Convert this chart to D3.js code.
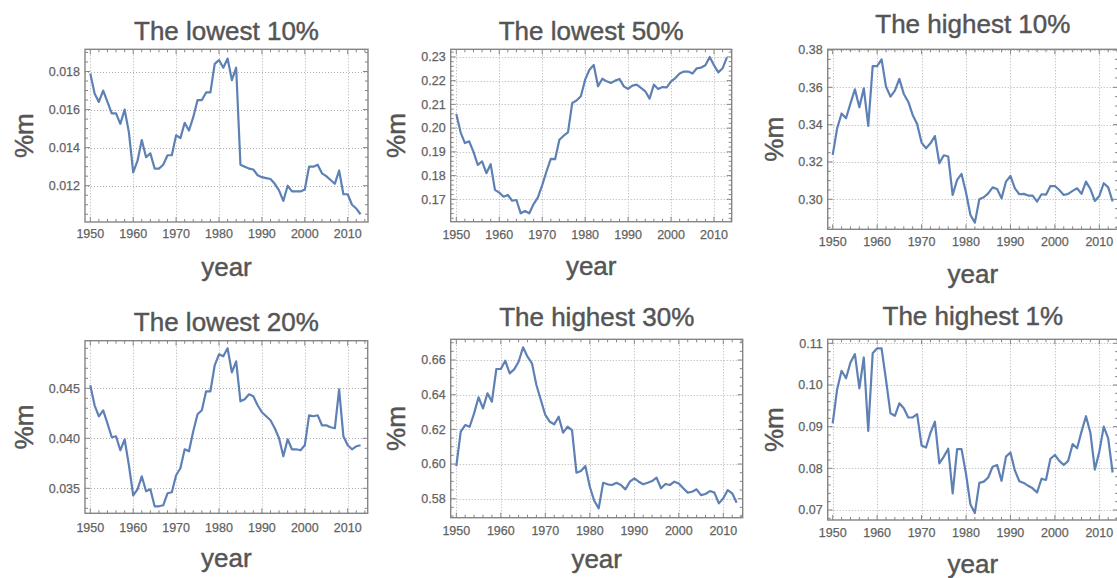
<!DOCTYPE html>
<html>
<head>
<meta charset="utf-8">
<script src="https://cdn.jsdelivr.net/npm/d3@7"></script>
<style>
  body { margin: 0; background: #fff; }
  svg { display: block; }
  text { font-family: "Liberation Sans", Arial, Helvetica, sans-serif; }
  .big { stroke: #555; stroke-width: 0.45px; }
  .tick { stroke: #6a6a6a; stroke-width: 0.25px; }
</style>
</head>
<body>
<svg id="chart" width="1117" height="578"></svg>
<script>
// Years covered by every series
const years = [
  1950,1951,1952,1953,1954,1955,1956,1957,1958,1959,
  1960,1961,1962,1963,1964,1965,1966,1967,1968,1969,
  1970,1971,1972,1973,1974,1975,1976,1977,1978,1979,
  1980,1981,1982,1983,1984,1985,1986,1987,1988,1989,
  1990,1991,1992,1993,1994,1995,1996,1997,1998,1999,
  2000,2001,2002,2003,2004,2005,2006,2007,2008,2009,
  2010,2011,2012,2013
];

// Income shares by group
const lowest10 = [
  0.0179,0.01685,0.0164,0.0170,0.0164,0.0158,0.0158,0.01525,0.0160,0.0148,
  0.0127,0.0133,0.0144,0.0135,0.0137,0.0129,0.0129,0.0131,0.0136,0.0136,
  0.01465,0.0145,0.0153,0.0149,0.0156,0.0165,0.0165,0.0169,0.0169,0.0184,
  0.0186,0.0182,0.01868,0.01755,0.0182,0.0131,0.0130,0.0129,0.01285,0.01255,
  0.01245,0.0124,0.01235,0.0121,0.01175,0.0112,0.0120,0.0117,0.0117,0.0117,
  0.0118,0.0130,0.0130,0.0131,0.01265,0.0125,0.0123,0.0121,0.0128,0.01155,
  0.01155,0.0110,0.0108,0.0105
];
const lowest50 = [
  0.2059,0.1982,0.1937,0.1944,0.1900,0.1845,0.1860,0.1810,0.1848,0.1740,
  0.1728,0.1711,0.1718,0.1694,0.1697,0.1641,0.1651,0.1641,0.1680,0.1708,
  0.1760,0.1817,0.1870,0.1869,0.1951,0.1968,0.1982,0.2106,0.2116,0.2134,
  0.2204,0.2246,0.2266,0.2176,0.2208,0.2197,0.2190,0.2200,0.2207,0.2176,
  0.2165,0.2179,0.2183,0.2169,0.2155,0.2124,0.2183,0.2165,0.2173,0.2172,
  0.2197,0.2211,0.2230,0.2238,0.2238,0.2230,0.2252,0.2255,0.2265,0.2300,
  0.2265,0.2235,0.2252,0.2298
];
const highest10 = [
  0.3238,0.3380,0.3460,0.3434,0.3514,0.3589,0.3493,0.3595,0.3393,0.3714,
  0.3714,0.3750,0.3604,0.3550,0.3582,0.3645,0.3564,0.3523,0.3452,0.3404,
  0.3304,0.3273,0.3300,0.3339,0.3193,0.3236,0.3229,0.3023,0.3104,0.3136,
  0.3036,0.2916,0.2875,0.3000,0.3011,0.3032,0.3064,0.3055,0.3005,0.3095,
  0.3125,0.3059,0.3027,0.3029,0.3020,0.3020,0.2988,0.3027,0.3025,0.3071,
  0.3071,0.3050,0.3023,0.3029,0.3045,0.3059,0.3029,0.3095,0.3055,0.2991,
  0.3018,0.3086,0.3064,0.2988
];
const lowest20 = [
  0.0453,0.0433,0.0422,0.0428,0.0415,0.0401,0.0402,0.0388,0.0399,0.0373,
  0.0343,0.0349,0.0362,0.0347,0.0349,0.0332,0.0332,0.0333,0.0345,0.0346,
  0.0363,0.0370,0.0389,0.0387,0.0407,0.0424,0.0428,0.0447,0.0447,0.0473,
  0.0484,0.0482,0.0490,0.0466,0.0477,0.0437,0.0439,0.0444,0.0442,0.0433,
  0.0426,0.0422,0.0418,0.0410,0.0400,0.0382,0.0399,0.0389,0.0389,0.0388,
  0.0393,0.0423,0.0422,0.0423,0.0413,0.0413,0.0411,0.0410,0.0449,0.0402,
  0.0393,0.0389,0.0392,0.0393
];
const highest30 = [
  0.5988,0.6187,0.6225,0.6215,0.6292,0.6385,0.6321,0.6408,0.6360,0.6548,
  0.6548,0.6596,0.6523,0.6546,0.6590,0.6673,0.6619,0.6581,0.6456,0.6369,
  0.6283,0.6244,0.6229,0.6273,0.6181,0.6215,0.6196,0.5950,0.5960,0.5988,
  0.5869,0.5788,0.5744,0.5892,0.5883,0.5879,0.5892,0.5879,0.5854,0.5898,
  0.5917,0.5898,0.5883,0.5892,0.5902,0.5921,0.5860,0.5885,0.5879,0.5898,
  0.5888,0.5860,0.5835,0.5840,0.5854,0.5821,0.5827,0.5844,0.5835,0.5773,
  0.5802,0.5850,0.5831,0.5777
];
const highest1 = [
  0.0908,0.0990,0.1034,0.1016,0.1054,0.1074,0.0992,0.1066,0.0890,0.1076,
  0.1088,0.1088,0.1012,0.0932,0.0926,0.0956,0.0944,0.0922,0.0922,0.0930,
  0.0855,0.0850,0.0885,0.0912,0.0812,0.0828,0.0847,0.0740,0.0846,0.0846,
  0.0787,0.0713,0.0693,0.0765,0.0768,0.0778,0.0804,0.0808,0.0770,0.0828,
  0.0838,0.0795,0.0769,0.0765,0.0758,0.0752,0.0742,0.0775,0.0772,0.0823,
  0.0832,0.0818,0.0808,0.0818,0.0858,0.0848,0.0888,0.0925,0.0885,0.0797,
  0.0840,0.0900,0.0872,0.0790
];

// Tick values
const xTicks = [1950, 1960, 1970, 1980, 1990, 2000, 2010];
const yTicksLowest10  = [0.012, 0.014, 0.016, 0.018];
const yTicksLowest50  = [0.17, 0.18, 0.19, 0.20, 0.21, 0.22, 0.23];
const yTicksHighest10 = [0.30, 0.32, 0.34, 0.36, 0.38];
const yTicksLowest20  = [0.035, 0.040, 0.045];
const yTicksHighest30 = [0.58, 0.60, 0.62, 0.64, 0.66];
const yTicksHighest1  = [0.07, 0.08, 0.09, 0.10, 0.11];

const titles = ["The lowest 10%", "The lowest 50%", "The highest 10%",
                "The lowest 20%", "The highest 30%", "The highest 1%"];
const xLabel = "year";
const yLabel = "%m";

// Panel geometry: frame box, two anchor ticks per axis, label baselines
const panels = [
  { title: titles[0], values: lowest10, yTicks: yTicksLowest10, fmt: ".3f", minor: 0.0005,
    frame: { l: 85, r: 368, t: 49.3, b: 222 }, xA: [90.3, 347.7], yA: [0.018, 71.5, 0.012, 185.7],
    titleY: 40, tickY: 238, xLabY: 276, yLabX: 33 },
  { title: titles[1], values: lowest50, yTicks: yTicksLowest50, fmt: ".2f", minor: 0.002,
    frame: { l: 450.7, r: 731.7, t: 49.3, b: 221.7 }, xA: [456.3, 714], yA: [0.23, 56.9, 0.17, 199.3],
    titleY: 40, tickY: 239, xLabY: 275, yLabX: 405 },
  { title: titles[2], values: highest10, yTicks: yTicksHighest10, fmt: ".2f", minor: 0.005,
    frame: { l: 827.7, r: 1118, t: 49.3, b: 229.3 }, xA: [832.7, 1099.3], yA: [0.38, 50, 0.30, 199.3],
    titleY: 32.7, tickY: 246, xLabY: 283, yLabX: 783 },
  { title: titles[3], values: lowest20, yTicks: yTicksLowest20, fmt: ".3f", minor: 0.001,
    frame: { l: 85, r: 367.7, t: 340.7, b: 513.3 }, xA: [90.3, 347.7], yA: [0.045, 388.3, 0.035, 488.3],
    titleY: 330.7, tickY: 531.7, xLabY: 566.7, yLabX: 33 },
  { title: titles[4], values: highest30, yTicks: yTicksHighest30, fmt: ".2f", minor: 0.005,
    frame: { l: 450.7, r: 742.7, t: 339.3, b: 517.7 }, xA: [456.3, 723.3], yA: [0.66, 360, 0.58, 498.7],
    titleY: 326, tickY: 535, xLabY: 568, yLabX: 405 },
  { title: titles[5], values: highest1, yTicks: yTicksHighest1, fmt: ".2f", minor: 0.002,
    frame: { l: 827.7, r: 1118, t: 339.3, b: 520 }, xA: [832.7, 1099.3], yA: [0.11, 343.3, 0.07, 510],
    titleY: 325, tickY: 536.7, xLabY: 573, yLabX: 783 }
];

const lineColor = "rgb(94,129,181)";
const frameColor = "#858585";
const gridColor = "#b0b0b0";
const tickTextColor = "#5e5e5e";
const labelColor = "#555555";

const svg = d3.select("#chart");

panels.forEach((p, i) => {
  const f = p.frame;
  const x = d3.scaleLinear().domain([1950, 2010]).range(p.xA);
  const y = d3.scaleLinear().domain([p.yA[0], p.yA[2]]).range([p.yA[1], p.yA[3]]);
  const xMin = x.invert(f.l), xMax = x.invert(f.r);
  const yMin = y.invert(f.b), yMax = y.invert(f.t);

  const g = svg.append("g");

  // clip for data inside frame
  const clipId = "clip" + i;
  svg.append("clipPath").attr("id", clipId)
    .append("rect").attr("x", f.l).attr("y", f.t).attr("width", f.r - f.l).attr("height", f.b - f.t);

  // dotted gridlines at major ticks
  const grid = g.append("g").attr("stroke", gridColor).attr("stroke-width", 1)
    .attr("stroke-dasharray", "1,2");
  xTicks.forEach(v => {
    const px = Math.round(x(v)) + 0.5;
    grid.append("line").attr("x1", px).attr("x2", px).attr("y1", f.t).attr("y2", f.b);
  });
  p.yTicks.forEach(v => {
    const py = Math.round(y(v)) + 0.5;
    grid.append("line").attr("x1", f.l).attr("x2", f.r).attr("y1", py).attr("y2", py);
  });

  // series line
  const line = d3.line().x((d, k) => x(years[k])).y(d => y(d));
  g.append("path").datum(p.values)
    .attr("clip-path", `url(#${clipId})`)
    .attr("fill", "none").attr("stroke", lineColor).attr("stroke-width", 2.2)
    .attr("stroke-linejoin", "round").attr("d", line);

  // frame
  g.append("rect").attr("x", f.l).attr("y", f.t).attr("width", f.r - f.l).attr("height", f.b - f.t)
    .attr("fill", "none").attr("stroke", frameColor).attr("stroke-width", 1.4);

  // ticks on all four sides (inward), majors and minors
  const ticksG = g.append("g").attr("stroke", frameColor).attr("stroke-width", 1);
  const xMinor = d3.range(1940, 2030, 2).filter(v => v > xMin && v < xMax);
  xMinor.forEach(v => {
    const major = v % 10 === 0;
    const len = major ? 5 : 3;
    const px = x(v);
    ticksG.append("line").attr("x1", px).attr("x2", px).attr("y1", f.b).attr("y2", f.b - len);
    ticksG.append("line").attr("x1", px).attr("x2", px).attr("y1", f.t).attr("y2", f.t + len);
  });
  const y0 = Math.floor(yMin / p.minor) - 1, y1 = Math.ceil(yMax / p.minor) + 1;
  d3.range(y0, y1 + 1).forEach(k => {
    const v = k * p.minor;
    if (v <= yMin || v >= yMax) return;
    const major = p.yTicks.some(t => Math.abs(t - v) < p.minor / 10);
    const len = major ? 5 : 3;
    const py = y(v);
    ticksG.append("line").attr("x1", f.l).attr("x2", f.l + len).attr("y1", py).attr("y2", py);
    ticksG.append("line").attr("x1", f.r).attr("x2", f.r - len).attr("y1", py).attr("y2", py);
  });

  // tick labels
  const fmt = d3.format(p.fmt);
  xTicks.forEach(v => {
    g.append("text").attr("class", "tick").attr("x", x(v)).attr("y", p.tickY)
      .attr("text-anchor", "middle").attr("font-size", 12.5).attr("fill", tickTextColor)
      .text(v);
  });
  p.yTicks.forEach(v => {
    g.append("text").attr("class", "tick").attr("x", f.l - 5).attr("y", y(v)).attr("dy", "0.35em")
      .attr("text-anchor", "end").attr("font-size", 12.5).attr("fill", tickTextColor)
      .text(fmt(v));
  });

  // title and axis labels
  const cx = (f.l + f.r) / 2, cy = (f.t + f.b) / 2;
  g.append("text").attr("class", "big").attr("x", cx).attr("y", p.titleY).attr("text-anchor", "middle")
    .attr("font-size", 26).attr("fill", labelColor).text(p.title);
  g.append("text").attr("class", "big").attr("x", cx).attr("y", p.xLabY).attr("text-anchor", "middle")
    .attr("font-size", 26).attr("fill", labelColor).text(xLabel);
  g.append("text").attr("class", "big").attr("transform", `translate(${p.yLabX},${cy}) rotate(-90)`)
    .attr("text-anchor", "middle").attr("font-size", 26).attr("fill", labelColor).text(yLabel);
});
</script>
</body>
</html>
